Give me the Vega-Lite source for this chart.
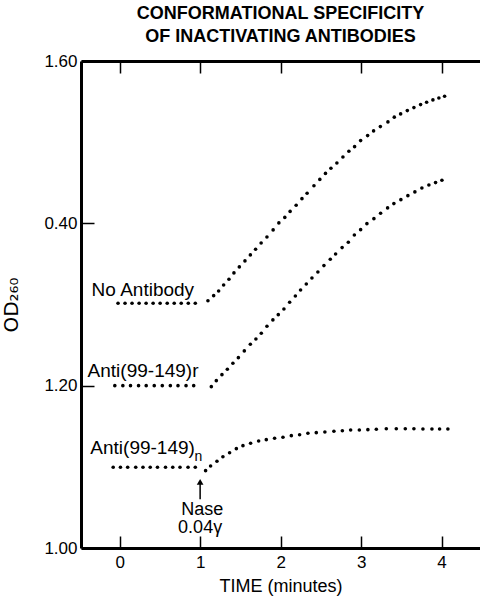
{
  "$schema": "https://vega.github.io/schema/vega-lite/v6.json",
  "width": 399,
  "height": 487,
  "autosize": {"type": "none"},
  "padding": {"left": 81, "top": 61, "right": 0, "bottom": 50},
  "background": "white",
  "config": {"view": {"stroke": null}, "font": "Liberation Sans"},
  "title": {
    "text": ["CONFORMATIONAL  SPECIFICITY", "OF  INACTIVATING  ANTIBODIES"],
    "font": "Liberation Sans",
    "fontSize": 18,
    "fontWeight": "bold",
    "color": "black",
    "anchor": "middle",
    "lineHeight": 23.5,
    "offset": 6
  },
  "datasets": {
    "dots": [
      {"s": "none", "t": -0.02, "od": 1.3015}, {"s": "none", "t": 0.067, "od": 1.3015}, {"s": "none", "t": 0.154, "od": 1.3015},
      {"s": "none", "t": 0.242, "od": 1.3015}, {"s": "none", "t": 0.329, "od": 1.3015}, {"s": "none", "t": 0.416, "od": 1.3015},
      {"s": "none", "t": 0.503, "od": 1.3015}, {"s": "none", "t": 0.591, "od": 1.3015}, {"s": "none", "t": 0.678, "od": 1.3015},
      {"s": "none", "t": 0.765, "od": 1.3015}, {"s": "none", "t": 0.853, "od": 1.3015}, {"s": "none", "t": 0.94, "od": 1.3015},
      {"s": "none", "t": 1.097, "od": 1.3047}, {"s": "none", "t": 1.168, "od": 1.3109}, {"s": "none", "t": 1.23, "od": 1.3167},
      {"s": "none", "t": 1.292, "od": 1.3241}, {"s": "none", "t": 1.358, "od": 1.3311}, {"s": "none", "t": 1.42, "od": 1.3389},
      {"s": "none", "t": 1.487, "od": 1.3463}, {"s": "none", "t": 1.557, "od": 1.3537}, {"s": "none", "t": 1.624, "od": 1.3611},
      {"s": "none", "t": 1.689, "od": 1.3681}, {"s": "none", "t": 1.758, "od": 1.3758}, {"s": "none", "t": 1.83, "od": 1.3832},
      {"s": "none", "t": 1.907, "od": 1.3919}, {"s": "none", "t": 1.978, "od": 1.4005}, {"s": "none", "t": 2.052, "od": 1.4073},
      {"s": "none", "t": 2.118, "od": 1.4147}, {"s": "none", "t": 2.193, "od": 1.4223}, {"s": "none", "t": 2.265, "od": 1.4304},
      {"s": "none", "t": 2.329, "od": 1.4371}, {"s": "none", "t": 2.414, "od": 1.4463}, {"s": "none", "t": 2.487, "od": 1.4541},
      {"s": "none", "t": 2.557, "od": 1.4615}, {"s": "none", "t": 2.625, "od": 1.4679}, {"s": "none", "t": 2.699, "od": 1.4744},
      {"s": "none", "t": 2.774, "od": 1.4818}, {"s": "none", "t": 2.848, "od": 1.4888}, {"s": "none", "t": 2.919, "od": 1.4945},
      {"s": "none", "t": 2.994, "od": 1.5019}, {"s": "none", "t": 3.081, "od": 1.5081}, {"s": "none", "t": 3.155, "od": 1.5139},
      {"s": "none", "t": 3.239, "od": 1.5192}, {"s": "none", "t": 3.333, "od": 1.525}, {"s": "none", "t": 3.412, "od": 1.5308},
      {"s": "none", "t": 3.491, "od": 1.5348}, {"s": "none", "t": 3.574, "od": 1.5389}, {"s": "none", "t": 3.656, "od": 1.5426},
      {"s": "none", "t": 3.739, "od": 1.5463}, {"s": "none", "t": 3.814, "od": 1.5492}, {"s": "none", "t": 3.892, "od": 1.5521},
      {"s": "none", "t": 3.966, "od": 1.5545}, {"s": "none", "t": 4.037, "od": 1.5566},
      {"s": "r", "t": -0.06, "od": 1.2}, {"s": "r", "t": 0.04, "od": 1.2}, {"s": "r", "t": 0.135, "od": 1.2},
      {"s": "r", "t": 0.235, "od": 1.2}, {"s": "r", "t": 0.33, "od": 1.2}, {"s": "r", "t": 0.43, "od": 1.2},
      {"s": "r", "t": 0.53, "od": 1.2}, {"s": "r", "t": 0.63, "od": 1.2}, {"s": "r", "t": 0.725, "od": 1.2},
      {"s": "r", "t": 0.825, "od": 1.2}, {"s": "r", "t": 0.92, "od": 1.2},
      {"s": "r", "t": 1.139, "od": 1.1988}, {"s": "r", "t": 1.201, "od": 1.2062}, {"s": "r", "t": 1.271, "od": 1.2136},
      {"s": "r", "t": 1.338, "od": 1.2202}, {"s": "r", "t": 1.407, "od": 1.2276}, {"s": "r", "t": 1.475, "od": 1.2345},
      {"s": "r", "t": 1.549, "od": 1.2428}, {"s": "r", "t": 1.624, "od": 1.251}, {"s": "r", "t": 1.693, "od": 1.2575},
      {"s": "r", "t": 1.76, "od": 1.2646}, {"s": "r", "t": 1.83, "od": 1.2732}, {"s": "r", "t": 1.904, "od": 1.281},
      {"s": "r", "t": 1.971, "od": 1.2875}, {"s": "r", "t": 2.041, "od": 1.2945}, {"s": "r", "t": 2.112, "od": 1.3028},
      {"s": "r", "t": 2.183, "od": 1.3105}, {"s": "r", "t": 2.248, "od": 1.3179}, {"s": "r", "t": 2.319, "od": 1.3253},
      {"s": "r", "t": 2.389, "od": 1.3327}, {"s": "r", "t": 2.463, "od": 1.3401}, {"s": "r", "t": 2.538, "od": 1.3479},
      {"s": "r", "t": 2.617, "od": 1.3558}, {"s": "r", "t": 2.683, "od": 1.3623}, {"s": "r", "t": 2.764, "od": 1.3701},
      {"s": "r", "t": 2.841, "od": 1.3767}, {"s": "r", "t": 2.916, "od": 1.3857}, {"s": "r", "t": 2.994, "od": 1.3922},
      {"s": "r", "t": 3.072, "od": 1.3996}, {"s": "r", "t": 3.159, "od": 1.4058}, {"s": "r", "t": 3.242, "od": 1.4124},
      {"s": "r", "t": 3.329, "od": 1.419}, {"s": "r", "t": 3.407, "od": 1.4243}, {"s": "r", "t": 3.494, "od": 1.4292},
      {"s": "r", "t": 3.581, "od": 1.4341}, {"s": "r", "t": 3.668, "od": 1.4387}, {"s": "r", "t": 3.755, "od": 1.4436},
      {"s": "r", "t": 3.842, "od": 1.4473}, {"s": "r", "t": 3.925, "od": 1.4502}, {"s": "r", "t": 4.004, "od": 1.4531},
      {"s": "n", "t": -0.08, "od": 1.0994}, {"s": "n", "t": 0.01, "od": 1.0994}, {"s": "n", "t": 0.1, "od": 1.0994},
      {"s": "n", "t": 0.2, "od": 1.0994}, {"s": "n", "t": 0.29, "od": 1.0994}, {"s": "n", "t": 0.38, "od": 1.0994},
      {"s": "n", "t": 0.47, "od": 1.0994}, {"s": "n", "t": 0.57, "od": 1.0994}, {"s": "n", "t": 0.66, "od": 1.0994},
      {"s": "n", "t": 0.75, "od": 1.0994}, {"s": "n", "t": 0.85, "od": 1.0994}, {"s": "n", "t": 0.94, "od": 1.0994},
      {"s": "n", "t": 1.068, "od": 1.0953}, {"s": "n", "t": 1.13, "od": 1.101}, {"s": "n", "t": 1.209, "od": 1.1068},
      {"s": "n", "t": 1.283, "od": 1.1125}, {"s": "n", "t": 1.366, "od": 1.1174}, {"s": "n", "t": 1.45, "od": 1.1224},
      {"s": "n", "t": 1.532, "od": 1.1261}, {"s": "n", "t": 1.627, "od": 1.129}, {"s": "n", "t": 1.727, "od": 1.1319},
      {"s": "n", "t": 1.822, "od": 1.1335}, {"s": "n", "t": 1.925, "od": 1.1352}, {"s": "n", "t": 2.029, "od": 1.1364},
      {"s": "n", "t": 2.133, "od": 1.1384}, {"s": "n", "t": 2.236, "od": 1.1396}, {"s": "n", "t": 2.339, "od": 1.1413},
      {"s": "n", "t": 2.443, "od": 1.1421}, {"s": "n", "t": 2.55, "od": 1.1429}, {"s": "n", "t": 2.662, "od": 1.1438},
      {"s": "n", "t": 2.767, "od": 1.1445}, {"s": "n", "t": 2.87, "od": 1.1454}, {"s": "n", "t": 2.978, "od": 1.1454},
      {"s": "n", "t": 3.084, "od": 1.1458}, {"s": "n", "t": 3.189, "od": 1.1463}, {"s": "n", "t": 3.313, "od": 1.147},
      {"s": "n", "t": 3.437, "od": 1.147}, {"s": "n", "t": 3.549, "od": 1.147}, {"s": "n", "t": 3.656, "od": 1.147},
      {"s": "n", "t": 3.768, "od": 1.1466}, {"s": "n", "t": 3.88, "od": 1.1466}, {"s": "n", "t": 3.975, "od": 1.1466},
      {"s": "n", "t": 4.078, "od": 1.1466}
    ],
    "labels": [
      {"label": "No Antibody", "t": -0.348, "od": 1.3105},
      {"label": "Anti(99-149)r", "t": -0.398, "od": 1.211},
      {"label": "Anti(99-149)", "t": -0.364, "od": 1.1158}
    ],
    "sub": [
      {"label": "n", "t": 0.93, "od": 1.1075}
    ],
    "nase": [
      {"label": "Nase", "t": 1.027, "od": 1.0407},
      {"label": "0.04γ", "t": 1.0, "od": 1.0185}
    ],
    "arrow": [
      {"t": 1.0, "od_lo": 1.06, "od_hi": 1.081}
    ],
    "head": [
      {"t": 1.0, "od": 1.0815}
    ]
  },
  "resolve": {"axis": {"x": "independent"}},
  "layer": [
    {
      "data": {"name": "dots"},
      "mark": {"type": "point", "filled": true, "color": "black", "size": 13, "opacity": 1},
      "encoding": {
        "x": {
          "field": "t", "type": "quantitative",
          "scale": {"domain": [-0.48, 4.477], "nice": false, "zero": false},
          "axis": {
            "orient": "bottom", "values": [0, 1, 2, 3, 4], "format": "d",
            "title": "TIME (minutes)", "titleFont": "Liberation Sans", "titleFontSize": 18,
            "titleFontWeight": "normal", "titleColor": "black", "titlePadding": 7,
            "labelFont": "Liberation Sans", "labelFontSize": 17, "labelColor": "black", "labelPadding": 18,
            "domainColor": "black", "domainWidth": 3, "tickColor": "black", "tickWidth": 1.5,
            "tickSize": -12, "grid": false
          }
        },
        "y": {
          "field": "od", "type": "quantitative",
          "scale": {"domain": [1.0, 1.6], "nice": false, "zero": false},
          "axis": {
            "values": [1.0, 1.2, 1.4, 1.6],
            "labelExpr": "abs(datum.value - 1.4) < 0.001 ? '0.40' : format(datum.value, '.2f')",
            "title": "OD₂₆₀", "titleFont": "DejaVu Sans", "titleFontSize": 20,
            "titleFontWeight": "normal", "titleColor": "black", "titlePadding": 22,
            "labelFont": "Liberation Sans", "labelFontSize": 17, "labelColor": "black", "labelPadding": 17,
            "domainColor": "black", "domainWidth": 3, "tickColor": "black", "tickWidth": 1.5,
            "tickSize": -13, "grid": false
          }
        }
      }
    },
    {
      "data": {"name": "arrow"},
      "mark": {"type": "rule", "color": "black", "strokeWidth": 1.5},
      "encoding": {
        "x": {
          "field": "t", "type": "quantitative",
          "scale": {"domain": [-0.48, 4.477], "nice": false, "zero": false},
          "axis": {
            "orient": "top", "values": [0, 1, 2, 3, 4], "labels": false, "title": null,
            "domainColor": "black", "domainWidth": 3, "tickColor": "black", "tickWidth": 1.5,
            "tickSize": -12, "grid": false
          }
        },
        "y": {"field": "od_lo", "type": "quantitative"},
        "y2": {"field": "od_hi"}
      }
    },
    {
      "data": {"name": "head"},
      "mark": {"type": "point", "shape": "triangle-up", "filled": true, "color": "black", "size": 45, "opacity": 1},
      "encoding": {
        "x": {"field": "t", "type": "quantitative", "axis": null},
        "y": {"field": "od", "type": "quantitative"}
      }
    },
    {
      "data": {"name": "labels"},
      "mark": {"type": "text", "align": "left", "baseline": "alphabetic", "font": "Liberation Sans", "fontSize": 19, "color": "black"},
      "encoding": {
        "x": {"field": "t", "type": "quantitative", "axis": null},
        "y": {"field": "od", "type": "quantitative"},
        "text": {"field": "label"}
      }
    },
    {
      "data": {"name": "sub"},
      "mark": {"type": "text", "align": "left", "baseline": "alphabetic", "font": "Liberation Sans", "fontSize": 14, "color": "black"},
      "encoding": {
        "x": {"field": "t", "type": "quantitative", "axis": null},
        "y": {"field": "od", "type": "quantitative"},
        "text": {"field": "label"}
      }
    },
    {
      "data": {"name": "nase"},
      "mark": {"type": "text", "align": "center", "baseline": "alphabetic", "font": "Liberation Sans", "fontSize": 18, "color": "black"},
      "encoding": {
        "x": {"field": "t", "type": "quantitative", "axis": null},
        "y": {"field": "od", "type": "quantitative"},
        "text": {"field": "label"}
      }
    }
  ]
}
